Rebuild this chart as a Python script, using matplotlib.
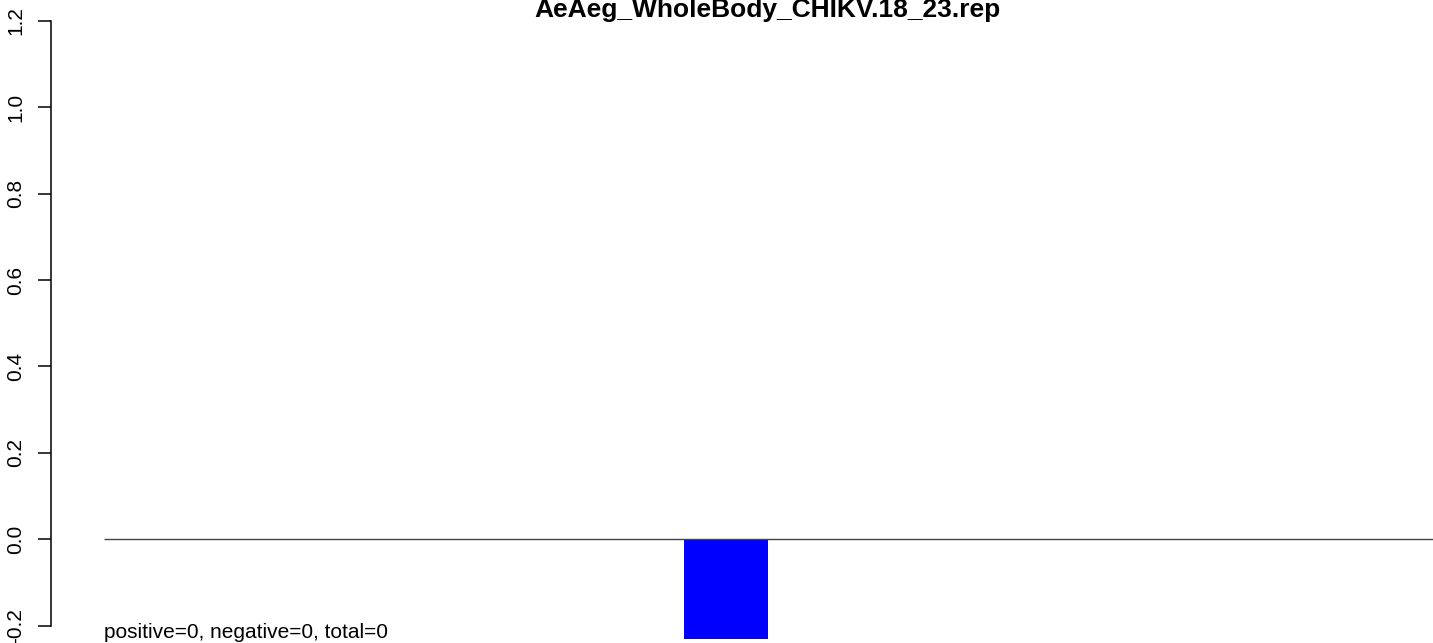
import matplotlib
matplotlib.use("Agg")
import matplotlib.pyplot as plt

plt.rcParams['font.family'] = ['Liberation Sans', 'DejaVu Sans']

title = "AeAeg_WholeBody_CHIKV.18_23.rep"
samples = ["rep"]
scores = [-0.23]
counts = {"positive": 0, "negative": 0, "total": 0}
yticks = [-0.2, 0.0, 0.2, 0.4, 0.6, 0.8, 1.0, 1.2]

W, H = 1433, 643
fig = plt.figure(figsize=(W / 100, H / 100), dpi=100)

# axes fills the figure height; the spine only covers -0.2..1.2
ax = fig.add_axes([50.7 / W, 0, 1 - 50.7 / W, 1])
ax.set_ylim(-0.2 - 17.3 / 432, 1.2 + 20.9 / 432)
ax.set_xlim(-8.04, 8.42)

ax.bar(range(len(samples)), scores, width=1.0, color="#0000ff", linewidth=0, zorder=2)
ax.hlines(0, -7.4, 8.42, color="#444444", linewidth=1.0, zorder=3)

for s in ["top", "right", "bottom"]:
    ax.spines[s].set_visible(False)
ax.spines["left"].set_bounds(yticks[0], yticks[-1])
ax.spines["left"].set_linewidth(1.1)
ax.set_yticks(yticks)
ax.set_yticklabels(["%.1f" % v for v in yticks], rotation=90, va="center", fontsize=15)
ax.tick_params(axis="y", length=9.5, width=1.1, pad=9)
ax.set_xticks([])

fig.text(767 / W, 1 - 16.5 / H, title, ha="center", va="baseline",
         fontsize=19, fontweight="bold")
ax.text(-7.4, -0.2 - 12.5 / 432,
        "positive=%d, negative=%d, total=%d" % (counts["positive"], counts["negative"], counts["total"]),
        ha="left", va="baseline", fontsize=15)

fig.savefig("out.png", dpi=100)
